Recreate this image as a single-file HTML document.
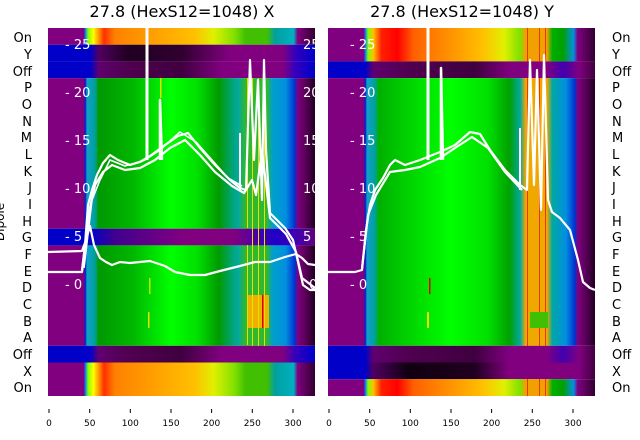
<!DOCTYPE html>
<html><head><meta charset="utf-8"><style>
body{margin:0;background:#fff;}
svg{display:block;font-family:"DejaVu Sans","Liberation Sans",sans-serif;}
</style></head><body>
<svg width="640" height="440" viewBox="0 0 640 440" xmlns="http://www.w3.org/2000/svg">
<defs>
<linearGradient id="gL" x1="0" x2="1" y1="0" y2="0">
<stop offset="0" stop-color="#800080"/><stop offset=".134" stop-color="#800080"/>
<stop offset=".14" stop-color="#0020d0"/><stop offset=".146" stop-color="#10a0c8"/>
<stop offset=".175" stop-color="#00a0a0"/><stop offset=".19" stop-color="#009800"/>
<stop offset=".32" stop-color="#00b800"/><stop offset=".46" stop-color="#00ff00"/>
<stop offset=".56" stop-color="#00e000"/><stop offset=".64" stop-color="#009a00"/>
<stop offset=".71" stop-color="#00a8a0"/><stop offset=".74" stop-color="#30b830"/>
<stop offset=".82" stop-color="#30b830"/><stop offset=".84" stop-color="#00a0c8"/>
<stop offset=".89" stop-color="#0090e0"/><stop offset=".925" stop-color="#0030d0"/>
<stop offset=".935" stop-color="#800080"/><stop offset=".96" stop-color="#600060"/>
<stop offset="1" stop-color="#200020"/></linearGradient>
<linearGradient id="gR" x1="0" x2="1" y1="0" y2="0">
<stop offset="0" stop-color="#800080"/><stop offset=".134" stop-color="#800080"/>
<stop offset=".14" stop-color="#0020d0"/><stop offset=".146" stop-color="#10a0c8"/>
<stop offset=".175" stop-color="#00a0a0"/><stop offset=".19" stop-color="#00b000"/>
<stop offset=".32" stop-color="#00d800"/><stop offset=".46" stop-color="#00ff00"/>
<stop offset=".6" stop-color="#00e000"/><stop offset=".68" stop-color="#00a000"/>
<stop offset=".72" stop-color="#00a8a0"/><stop offset=".74" stop-color="#f0a800"/>
<stop offset=".82" stop-color="#f0a800"/><stop offset=".84" stop-color="#00a8a0"/>
<stop offset=".89" stop-color="#0090e0"/><stop offset=".925" stop-color="#0030d0"/>
<stop offset=".935" stop-color="#800080"/><stop offset=".96" stop-color="#600060"/>
<stop offset="1" stop-color="#200020"/></linearGradient>
<linearGradient id="sL" x1="0" x2="1" y1="0" y2="0">
<stop offset="0" stop-color="#800080"/><stop offset=".134" stop-color="#800080"/>
<stop offset=".14" stop-color="#0080ff"/><stop offset=".15" stop-color="#80ff00"/>
<stop offset=".17" stop-color="#ffff00"/><stop offset=".21" stop-color="#ff3000"/>
<stop offset=".25" stop-color="#ff8000"/><stop offset=".4" stop-color="#ffa000"/>
<stop offset=".55" stop-color="#ffc000"/><stop offset=".62" stop-color="#e0f000"/>
<stop offset=".7" stop-color="#80e000"/><stop offset=".74" stop-color="#40c000"/>
<stop offset=".82" stop-color="#40c000"/><stop offset=".85" stop-color="#00a0a0"/>
<stop offset=".92" stop-color="#00b0c0"/><stop offset=".935" stop-color="#800080"/>
<stop offset="1" stop-color="#300030"/></linearGradient>
<linearGradient id="sR" x1="0" x2="1" y1="0" y2="0">
<stop offset="0" stop-color="#800080"/><stop offset=".134" stop-color="#800080"/>
<stop offset=".14" stop-color="#0080ff"/><stop offset=".15" stop-color="#80ff00"/>
<stop offset=".17" stop-color="#ffc000"/><stop offset=".2" stop-color="#ff2000"/>
<stop offset=".26" stop-color="#ff0000"/><stop offset=".32" stop-color="#ff6000"/>
<stop offset=".45" stop-color="#ff9000"/><stop offset=".58" stop-color="#ffc000"/>
<stop offset=".66" stop-color="#e0f000"/><stop offset=".72" stop-color="#80e000"/>
<stop offset=".74" stop-color="#f0a000"/><stop offset=".82" stop-color="#f0a000"/>
<stop offset=".84" stop-color="#00b000"/><stop offset=".88" stop-color="#00a000"/>
<stop offset=".92" stop-color="#0090e0"/><stop offset=".935" stop-color="#800080"/>
<stop offset="1" stop-color="#300030"/></linearGradient>
<linearGradient id="dk" x1="0" x2="1" y1="0" y2="0">
<stop offset="0" stop-color="#0000c8"/><stop offset=".16" stop-color="#0000c8"/>
<stop offset=".19" stop-color="#500060"/><stop offset=".3" stop-color="#200020"/>
<stop offset=".5" stop-color="#300030"/><stop offset=".68" stop-color="#800080"/>
<stop offset=".88" stop-color="#800080"/><stop offset=".93" stop-color="#3000c0"/>
<stop offset="1" stop-color="#0000c8"/></linearGradient>
<linearGradient id="dk2" x1="0" x2="1" y1="0" y2="0">
<stop offset="0" stop-color="#0000c8"/><stop offset=".16" stop-color="#0000c8"/>
<stop offset=".19" stop-color="#600070"/><stop offset=".3" stop-color="#500050"/>
<stop offset=".5" stop-color="#400040"/><stop offset=".65" stop-color="#800080"/>
<stop offset=".88" stop-color="#800080"/><stop offset=".93" stop-color="#3000c0"/>
<stop offset="1" stop-color="#0000c8"/></linearGradient>
<linearGradient id="dkR" x1="0" x2="1" y1="0" y2="0">
<stop offset="0" stop-color="#0000c8"/><stop offset=".14" stop-color="#0000c8"/>
<stop offset=".17" stop-color="#500060"/><stop offset=".3" stop-color="#100010"/>
<stop offset=".55" stop-color="#200020"/><stop offset=".68" stop-color="#800080"/>
<stop offset=".9" stop-color="#800080"/><stop offset=".94" stop-color="#800080"/>
<stop offset="1" stop-color="#400040"/></linearGradient>
<linearGradient id="dkR2" x1="0" x2="1" y1="0" y2="0">
<stop offset="0" stop-color="#0000c8"/><stop offset=".14" stop-color="#0000c8"/>
<stop offset=".17" stop-color="#600070"/><stop offset=".3" stop-color="#500050"/>
<stop offset=".55" stop-color="#400040"/><stop offset=".68" stop-color="#800080"/>
<stop offset=".82" stop-color="#800080"/><stop offset=".88" stop-color="#4000b0"/>
<stop offset=".94" stop-color="#800080"/><stop offset="1" stop-color="#400040"/></linearGradient>
<linearGradient id="bl" x1="0" x2="1" y1="0" y2="0">
<stop offset="0" stop-color="#0000c8"/><stop offset=".16" stop-color="#0000c8"/>
<stop offset=".25" stop-color="#400090"/><stop offset=".5" stop-color="#800080"/>
<stop offset=".7" stop-color="#800080"/><stop offset=".85" stop-color="#2000c8"/>
<stop offset=".93" stop-color="#4000b0"/><stop offset="1" stop-color="#600080"/></linearGradient>
</defs>

<g>
<rect x="48" y="28" width="267" height="16.7" fill="url(#sL)"/>
<rect x="48" y="44.7" width="267" height="16.7" fill="url(#dk)"/>
<rect x="48" y="61.4" width="267" height="16.7" fill="url(#dk2)"/>
<rect x="48" y="78.1" width="267" height="150.6" fill="url(#gL)"/>
<rect x="48" y="228.7" width="267" height="16.7" fill="url(#bl)"/>
<rect x="48" y="245.4" width="267" height="100.4" fill="url(#gL)"/>
<rect x="48" y="345.8" width="267" height="16.7" fill="url(#dk2)"/>
<rect x="48" y="362.5" width="267" height="33.5" fill="url(#sL)"/>
<rect x="247" y="295" width="22" height="33" fill="#f0b000"/>
<g fill="#e8e000">
<rect x="247" y="78" width="1" height="150"/><rect x="252" y="78" width="1" height="268"/>
<rect x="258" y="78" width="1" height="268"/><rect x="264" y="78" width="1" height="268"/>
<rect x="247" y="245" width="1" height="100"/><rect x="160" y="78" width="1.5" height="20"/>
<rect x="148" y="312" width="1.5" height="16"/><rect x="149" y="278" width="1.5" height="16" fill="#c0f000"/>
</g>
<rect x="262" y="295" width="1.5" height="33" fill="#e00000"/>
</g>

<g>
<rect x="328" y="28" width="267" height="33.4" fill="url(#sR)"/>
<rect x="328" y="61.4" width="267" height="16.7" fill="url(#dkR2)"/>
<rect x="328" y="78.1" width="267" height="267.7" fill="url(#gR)"/>
<rect x="328" y="345.8" width="267" height="16.7" fill="url(#dkR2)"/>
<rect x="328" y="362.5" width="267" height="16.7" fill="url(#dkR)"/>
<rect x="328" y="379.2" width="267" height="16.8" fill="url(#sR)"/>
<g fill="#e82000" opacity="0.8">
<rect x="527" y="28" width="1" height="34"/><rect x="539" y="28" width="1" height="34"/>
<rect x="545" y="28" width="1" height="34"/>
<rect x="527" y="78" width="1" height="268"/><rect x="539" y="78" width="1" height="268"/>
<rect x="545" y="78" width="1" height="268"/>
<rect x="527" y="379" width="1" height="17"/><rect x="539" y="379" width="1" height="17"/>
<rect x="545" y="379" width="1" height="17"/>
</g>
<rect x="429" y="278" width="1.5" height="16" fill="#e00000"/>
<rect x="530" y="312" width="18" height="16" fill="#40c000"/>
<rect x="427" y="312" width="2" height="16" fill="#f0e000"/>
</g>

<g fill="#fff" font-size="13">
<text x="65" y="49">- 25</text><text x="65" y="97">- 20</text><text x="65" y="145">- 15</text>
<text x="65" y="193">- 10</text><text x="65" y="241">- 5</text><text x="65" y="289">- 0</text>
<text x="303" y="49">25</text><text x="303" y="97">20</text><text x="303" y="145">15</text>
<text x="303" y="193">10</text><text x="303" y="241">5</text><text x="309" y="289">0</text>
<text x="350" y="49">- 25</text><text x="350" y="97">- 20</text><text x="350" y="145">- 15</text>
<text x="350" y="193">- 10</text><text x="350" y="241">- 5</text><text x="350" y="289">- 0</text>
</g>

<g fill="none" stroke="#fff" stroke-width="2.2" stroke-linejoin="round">
<polyline points="48,252 82,251 86,240 90,226 94,245 100,258 106,262 112,265 120,262 130,263 140,262 150,261 165,266 175,272 190,275 205,275 220,271 240,266 255,262 270,262 285,257 296,254 302,258 308,264 315,265"/>
<polyline points="48,272 82,272 85,245 88,205 92,190 97,175 103,163 110,155 118,160 130,165 140,162 150,156 165,145 178,136 188,133 200,148 215,165 230,180 240,188 246,190 250,60 254,160 258,80 262,200 264,60 266,150 270,213 285,228 293,240 298,262 303,285 310,290 315,290"/>
<polyline points="82,270 86,238 90,208 95,185 103,172 112,165 125,170 140,168 155,160 170,148 185,140 200,155 215,172 232,186 244,193 252,180 256,195 262,150 270,218 286,234 296,252 302,278 315,288"/>
<polyline points="84,268 92,200 100,180 110,160 125,166 145,160 160,150 180,132 196,142 212,160 228,178 242,186" stroke-width="1.6"/>
<polyline points="147,28 147,160" stroke-width="3"/>
<polyline points="160,160 160,100 162,160" stroke-width="2.5"/>
<polyline points="240,190 240,133" stroke-width="2"/>
</g>
<g fill="none" stroke="#fff" stroke-width="2.2" stroke-linejoin="round">
<polyline points="328,272 355,272 362,270 366,230 370,205 375,190 383,178 390,165 395,160 405,165 420,160 440,152 455,145 470,132 480,134 490,150 505,170 520,185 527,190 530,60 534,185 537,70 541,210 544,55 548,200 552,212 560,218 570,230 578,260 583,282 590,288 595,290"/>
<polyline points="362,268 368,215 376,195 390,172 405,170 420,167 440,158 458,146 472,137 488,148 505,172 522,190"/>
<polyline points="428,28 428,160" stroke-width="3"/>
<polyline points="441,160 441,68 443,160" stroke-width="2.5"/>
<polyline points="520,190 520,128" stroke-width="2"/>
</g>

<g font-size="16" fill="#000" text-anchor="middle">
<text x="182" y="17">27.8 (HexS12=1048) X</text>
<text x="462" y="17">27.8 (HexS12=1048) Y</text>
</g>

<g font-size="13" fill="#000">
<g text-anchor="end">
<text x="32" y="42">On</text><text x="32" y="59">Y</text><text x="32" y="76">Off</text>
<text x="32" y="92">P</text><text x="32" y="109">O</text><text x="32" y="126">N</text>
<text x="32" y="142">M</text><text x="32" y="159">L</text><text x="32" y="176">K</text>
<text x="32" y="192">J</text><text x="32" y="209">I</text><text x="32" y="226">H</text>
<text x="32" y="242">G</text><text x="32" y="259">F</text><text x="32" y="276">E</text>
<text x="32" y="292">D</text><text x="32" y="309">C</text><text x="32" y="326">B</text>
<text x="32" y="342">A</text><text x="32" y="359">Off</text><text x="32" y="376">X</text>
<text x="32" y="392">On</text>
</g>
<g>
<text x="612" y="42">On</text><text x="612" y="59">Y</text><text x="612" y="76">Off</text>
<text x="612" y="92">P</text><text x="612" y="109">O</text><text x="612" y="126">N</text>
<text x="612" y="142">M</text><text x="612" y="159">L</text><text x="612" y="176">K</text>
<text x="612" y="192">J</text><text x="612" y="209">I</text><text x="612" y="226">H</text>
<text x="612" y="242">G</text><text x="612" y="259">F</text><text x="612" y="276">E</text>
<text x="612" y="292">D</text><text x="612" y="309">C</text><text x="612" y="326">B</text>
<text x="612" y="342">A</text><text x="612" y="359">Off</text><text x="612" y="376">X</text>
<text x="612" y="392">On</text>
</g>
<text transform="translate(4,222) rotate(-90)" text-anchor="middle" font-size="12">Dipole</text>
</g>

<g stroke="#000" stroke-width="1">
<line x1="49" y1="409" x2="49" y2="413"/><line x1="89.7" y1="409" x2="89.7" y2="413"/>
<line x1="130.3" y1="409" x2="130.3" y2="413"/><line x1="171" y1="409" x2="171" y2="413"/>
<line x1="211.6" y1="409" x2="211.6" y2="413"/><line x1="252.3" y1="409" x2="252.3" y2="413"/>
<line x1="293" y1="409" x2="293" y2="413"/>
<line x1="329" y1="409" x2="329" y2="413"/><line x1="369.7" y1="409" x2="369.7" y2="413"/>
<line x1="410.3" y1="409" x2="410.3" y2="413"/><line x1="451" y1="409" x2="451" y2="413"/>
<line x1="491.6" y1="409" x2="491.6" y2="413"/><line x1="532.3" y1="409" x2="532.3" y2="413"/>
<line x1="573" y1="409" x2="573" y2="413"/>
</g>
<g font-size="9" fill="#000" text-anchor="middle">
<text x="49" y="426">0</text><text x="89.7" y="426">50</text><text x="130.3" y="426">100</text>
<text x="171" y="426">150</text><text x="211.6" y="426">200</text><text x="252.3" y="426">250</text>
<text x="293" y="426">300</text>
<text x="329" y="426">0</text><text x="369.7" y="426">50</text><text x="410.3" y="426">100</text>
<text x="451" y="426">150</text><text x="491.6" y="426">200</text><text x="532.3" y="426">250</text>
<text x="573" y="426">300</text>
</g>
</svg>
</body></html>
